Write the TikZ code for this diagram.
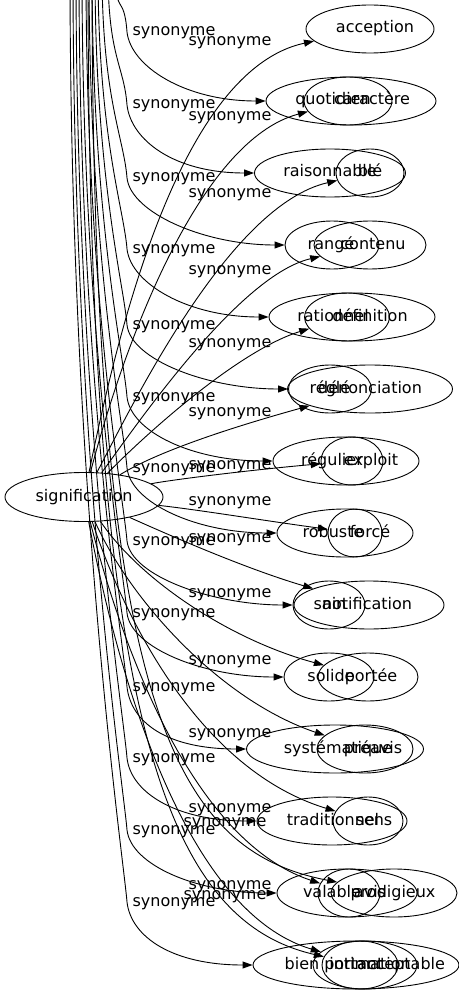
\documentclass[tikz,border=0pt]{standalone}
\usepackage{fontspec}
\setmainfont{DejaVu Sans}
\usetikzlibrary{arrows.meta,shapes.geometric}

\begin{document}
\begin{tikzpicture}[x=1pt,y=-1pt,
  every node/.style={font=\fontsize{16}{19}\selectfont},
  ell/.style={draw,ellipse,inner sep=0pt,minimum height=48pt,line width=0.9pt},
  word/.style={inner sep=0pt,text height=11.5pt,text depth=3.5pt},
  lbl/.style={inner sep=0pt,text height=11.5pt,text depth=3.5pt},
  syn/.style={line width=0.9pt,-{Triangle[length=10pt,width=7pt]}}]
\useasboundingbox (0,0) rectangle (458,995);

% source node
\node[ell,minimum width=158pt,minimum height=49pt] (sig) at (84,497) {signification};

% target ellipses
\foreach \n/\x/\y/\w in {acc/370/29/128,
  q1/351/101/170, q2/348/101/88,
  r3a/330/173/151, r3b/370/173/68,
  r4a/332/245/94, r4b/370/245/112,
  r5a/352/317/166, r5b/347/317/85,
  r6a/330/389/83, r6b/370/389/165,
  r7a/346/461/146, r7b/352/461/62,
  r8a/345/533/136, r8b/355/533/54,
  r9a/329/605/72, r9b/369/605/150,
  r10a/329/677/90, r10b/368/677/100,
  r11a/335/749/177, r11b/365/749/96,
  r12a/332/821/150, r12b/368/821/70,
  r13a/347/893/140, r13b/349/893/62, r13c/394/893/126,
  r14a/356/965/206, r14b/365/965/104, r14c/360/965/76}
  \node[ell,minimum width=\w pt] (\n) at (\x,\y) {};

% words
\foreach \n/\t/\x/\y in {acc/acception/375/29,
  q1/quotidien/333/101, q2/caractère/372/101,
  r3a/raisonnable/330/173, r3b/blé/370/173,
  r4a/rangé/331/245, r4b/contenu/373/245,
  r5a/rationnel/333/317, r5b/définition/370/317,
  r6a/réglé/330/389, r6b/dénonciation/370/389,
  r7a/régulier/332/461, r7b/exploit/371/461,
  r8a/robuste/333/533, r8b/forcé/370/533,
  r9a/sain/330/605, r9b/notification/367/605,
  r10a/solide/331/677, r10b/portée/371/677,
  r11a/systématique/338/749, r11b/préavis/373/749,
  r12a/traditionnel/333/821, r12b/sens/374/821,
  r13a/valable/332/893, r13b/avis/370/893, r13c/prodigieux/393/893,
  r14a/bien portant/334/965, r14b/intimation/370/965, r14c/acceptable/401/965}
  \node[word] (w-\n) at (\x,\y) {\t};

% edges coming down from above
\foreach \n/\sx/\ly in {q1/115/32, r3a/108/105, r4a/102/178, r5a/98/249,
  r6a/95/325, r7a/92/397, r8a/89/468, r9a/86/541, r10a/82/613,
  r11a/79/687, r12a/76/758, r13a/73/830, r14a/70/902}
{
  \coordinate (t-\n) at (\sx,-30);
  \draw[syn] (t-\n) .. controls (\sx,{0.55*\ly}) and (124,\ly-40) .. (127,\ly)
    .. controls (131,\ly+35) and ([xshift=-80pt]\n.west) .. (\n.west);
}
\coordinate (t-r13c) at (92,-30);
\coordinate (t-r14c) at (88,-30);
\draw[syn] (t-r13c) .. controls (92,700) and (170,850) .. (r13c);
\draw[syn] (t-r14c) .. controls (88,720) and (165,920) .. (r14c);

% edges from signification
\foreach \n/\ax/\ay/\bx/\by in {acc/118/330/180/70, q2/125/340/200/140,
  r3b/135/400/230/205, r4b/140/420/240/275, r5b/150/430/240/350,
  r6b/160/450/240/425, r7b/170/480/250/470, r8b/200/510/260/520,
  r9b/180/540/250/570, r10b/140/580/230/640, r11b/130/600/220/700,
  r12b/125/620/200/770, r13b/120/640/190/840, r14b/115/660/180/910}
  \draw[syn] (sig) .. controls (\ax,\ay) and (\bx,\by) .. (\n);

% edge labels
\foreach \y [count=\i from 2] in {32,105,178,249,325,397,468,541,613,687,758,830,902}
  \node[lbl] (lt-\i) at (174,\y) {synonyme};
\foreach \y [count=\i] in {42,117,193,270,343,412,465,501,538,593,660,733,808,885}
  \node[lbl] (ls-\i) at (230,\y) {synonyme};
\node[lbl] (lx-13) at (225,822) {synonyme};
\node[lbl] (lx-14) at (225,895) {synonyme};
\end{tikzpicture}
\end{document}
